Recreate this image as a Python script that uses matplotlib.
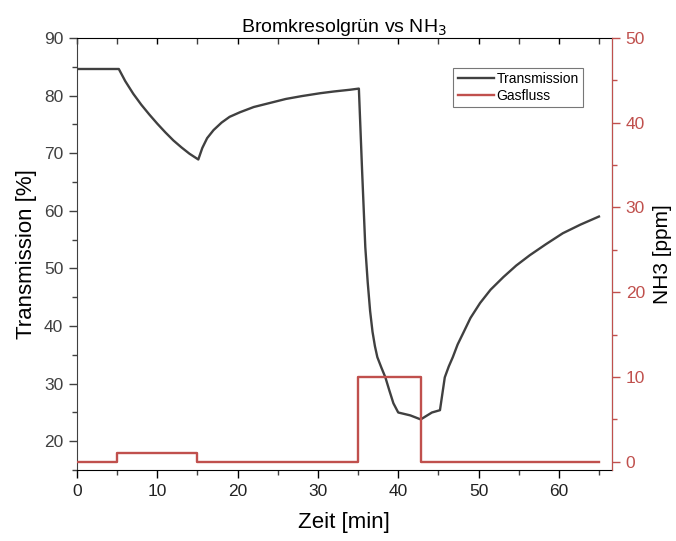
import numpy as np
import matplotlib
matplotlib.use("Agg")
import matplotlib.pyplot as plt
from matplotlib.ticker import MultipleLocator

plt.rcParams['font.family'] = ['Liberation Sans', 'DejaVu Sans']

# Transmission curve
zeit = [0, 5.2, 6, 7, 8, 9, 10, 11, 12, 13, 14, 15.1, 15.6, 16.2, 17, 18, 19, 20.3,
        22, 24, 26, 28, 30.3, 32, 34, 35.1, 35.5, 35.9, 36.2, 36.5, 36.8, 37.1, 37.4,
        37.9, 38.4, 38.9, 39.4, 40.0, 41.5, 42.8, 44.2, 45.2, 45.8, 46.3, 46.8, 47.4,
        48.1, 49.0, 50.2, 51.5, 53.1, 54.7, 56.4, 58.4, 60.5, 62.7, 65.0]
transmission = [84.6, 84.6, 82.5, 80.3, 78.4, 76.7, 75.1, 73.6, 72.2, 71.0, 69.9, 68.9,
                70.9, 72.6, 74.0, 75.3, 76.3, 77.1, 78.0, 78.7, 79.4, 79.9, 80.4, 80.7,
                81.0, 81.2, 67.0, 53.7, 47.6, 42.6, 39.0, 36.5, 34.6, 32.8, 31.1, 28.8,
                26.6, 25.0, 24.5, 23.8, 25.0, 25.4, 31.1, 33.0, 34.6, 36.8, 38.8, 41.4,
                44.0, 46.3, 48.5, 50.5, 52.3, 54.2, 56.1, 57.6, 59.0]

# Gas flow steps
zeit_gas = [0, 5, 15, 35, 42.8, 65]
gasfluss = [0, 1, 0, 10, 0, 0]

grey = '#404040'
red = '#c0504d'

fig = plt.figure(figsize=(6.76, 5.41), dpi=100)
ax = fig.add_axes([0.114, 0.131, 0.791, 0.799])
ax2 = ax.twinx()

l1, = ax.plot(zeit, transmission, color=grey, lw=1.7, label='Transmission')
l2, = ax2.plot(zeit_gas, gasfluss, color=red, lw=1.7, drawstyle='steps-post', label='Gasfluss')

ax.set_xlim(0, 66.6)
ax.set_ylim(15, 90)
ax2.set_ylim(-1, 50)

ax.xaxis.set_major_locator(MultipleLocator(10))
ax.xaxis.set_minor_locator(MultipleLocator(5))
ax.yaxis.set_major_locator(MultipleLocator(10))
ax.yaxis.set_minor_locator(MultipleLocator(5))
ax2.yaxis.set_major_locator(MultipleLocator(10))
ax2.yaxis.set_minor_locator(MultipleLocator(5))

ax.tick_params(axis='both', which='major', direction='out', length=6, width=1,
               labelsize=12.5, labelcolor=grey, colors=grey, pad=4)
ax.tick_params(axis='both', which='minor', direction='out', length=3.5, width=1, colors=grey)
ax.tick_params(axis='x', which='both', top=True, labeltop=False)
ax.tick_params(axis='x', colors='black', labelcolor='#222222')
ax2.tick_params(axis='y', which='major', direction='out', length=6, width=1,
                colors=red, labelcolor=red, labelsize=12.5, pad=4)
ax2.tick_params(axis='y', which='minor', direction='out', length=3.5, width=1, colors=red)

# top ticks point inward
for t in ax.xaxis.get_major_ticks() + ax.xaxis.get_minor_ticks():
    t.tick2line.set_marker(matplotlib.lines.TICKDOWN)
    t.tick2line.set_markersize(4)

ax.spines['left'].set_color(grey)
ax.spines['bottom'].set_color('black')
ax.spines['top'].set_color('black')
ax2.spines['right'].set_color(red)
ax2.spines['left'].set_visible(False)
ax2.spines['top'].set_visible(False)
ax2.spines['bottom'].set_visible(False)

ax.set_xlabel('Zeit [min]', fontsize=16, labelpad=9)
ax.set_ylabel('Transmission [%]', fontsize=16, labelpad=5)
ax2.set_ylabel('NH3 [ppm]', fontsize=15, labelpad=6)
ax.set_title('Bromkresolgrün vs NH$_3$', fontsize=14, pad=3)

leg = ax.legend(handles=[l1, l2], loc='upper right', bbox_to_anchor=(0.946, 0.93),
                fontsize=10, frameon=True, fancybox=False, edgecolor='#555555',
                handlelength=2.6, handletextpad=0.2, borderpad=0.3, labelspacing=0.2,
                borderaxespad=0)
leg.get_frame().set_linewidth(0.8)

fig.savefig('out.png', dpi=100)
